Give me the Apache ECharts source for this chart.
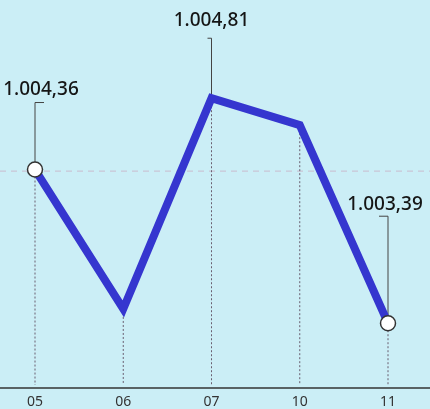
<!DOCTYPE html>
<html><head><meta charset="utf-8">
<script src="https://cdn.jsdelivr.net/npm/echarts@6/dist/echarts.min.js"></script>
<style>html,body{margin:0;padding:0;background:#cbeef6}#c{width:430px;height:409px}</style>
</head><body><div id="c"></div>
<script>
const categories = ['05', '06', '07', '10', '11'];
const values = [1004.36, 1003.48, 1004.81, 1004.64, 1003.39];
const valueLabels = ['1.004,36', '', '1.004,81', '', '1.003,39'];
const showDot = [true, false, false, false, true];
const gridLineValue = 1004.35;

const yMin = 1003.0, yMax = 1005.43;
// leader styling per labelled point: rise (px), tick direction, text centre offset
const leader = {
  0: { rise: 67, tick: 9, tx: 6, ty: -13 },
  2: { rise: 60, tick: -4, tx: 0, ty: -18 },
  4: { rise: 107, tick: -9, tx: -3, ty: -12 }
};

const chart = echarts.init(document.getElementById('c'));
chart.setOption({
  backgroundColor: '#cbeef6',
  animation: false,
  grid: [
    { left: 35, right: 42, top: 0, bottom: 21 },
    { left: 0, right: 0, top: 0, bottom: 21 }
  ],
  xAxis: [
    { type: 'category', data: categories, boundaryGap: false, gridIndex: 0,
      axisLine: { show: false }, axisTick: { show: false },
      axisLabel: { margin: 10, fontSize: 14, color: '#333', fontFamily: 'Noto Sans' },
      splitLine: { show: false } },
    { type: 'value', gridIndex: 1, min: 0, max: 1, show: true,
      axisLine: { show: true, onZero: false, lineStyle: { color: '#333', width: 1.5 } },
      axisTick: { show: false }, axisLabel: { show: false }, splitLine: { show: false } }
  ],
  yAxis: [
    { type: 'value', min: yMin, max: yMax, gridIndex: 0, show: false },
    { type: 'value', min: 0, max: 1, gridIndex: 1, show: false }
  ],
  series: [
    {
      type: 'custom', xAxisIndex: 0, yAxisIndex: 0, z: 1,
      data: categories.map((c, i) => [i, values[i]]),
      renderItem: function (params, api) {
        const i = params.dataIndex;
        const p = api.coord([api.value(0), api.value(1)]);
        const base = api.coord([api.value(0), yMin]);
        const r = showDot[i] ? 7 : 0;
        const children = [];
        if (i === 0) {
          const g1 = api.coord([0, gridLineValue]);
          const g2 = api.coord([categories.length - 1, gridLineValue]);
          children.push({
            type: 'line',
            shape: { x1: 0, y1: g1[1], x2: g2[0] + 42, y2: g2[1] },
            style: { stroke: '#c9bccd', lineWidth: 1, lineDash: [6, 5] }
          });
        }
        children.push({
          type: 'line',
          shape: { x1: p[0], y1: p[1] + r, x2: base[0], y2: base[1] },
          style: { stroke: '#6a5f70', lineWidth: 1, lineDash: [2, 2] }
        });
        const L = leader[i];
        if (L && valueLabels[i]) {
          const topY = p[1] - L.rise;
          children.push({
            type: 'polyline',
            shape: { points: [[p[0], p[1] - r], [p[0], topY], [p[0] + L.tick, topY]] },
            style: { stroke: '#444', lineWidth: 1, fill: null }
          });
          children.push({
            type: 'text',
            x: p[0] + L.tx, y: topY + L.ty,
            style: { text: valueLabels[i], fontSize: 19, fontFamily: 'Noto Sans',
              fontWeight: 500, fill: '#151515', align: 'center', verticalAlign: 'middle' }
          });
        }
        return { type: 'group', children: children };
      }
    },
    {
      type: 'line', xAxisIndex: 0, yAxisIndex: 0, z: 3,
      data: values.map((v, i) => ({
        value: v,
        symbol: showDot[i] ? 'circle' : 'none'
      })),
      symbolSize: 15,
      lineStyle: { color: '#3536cf', width: 8, join: 'miter' },
      itemStyle: { color: '#ffffff', borderColor: '#333', borderWidth: 1.5 }
    }
  ]
});
</script>
</body></html>
